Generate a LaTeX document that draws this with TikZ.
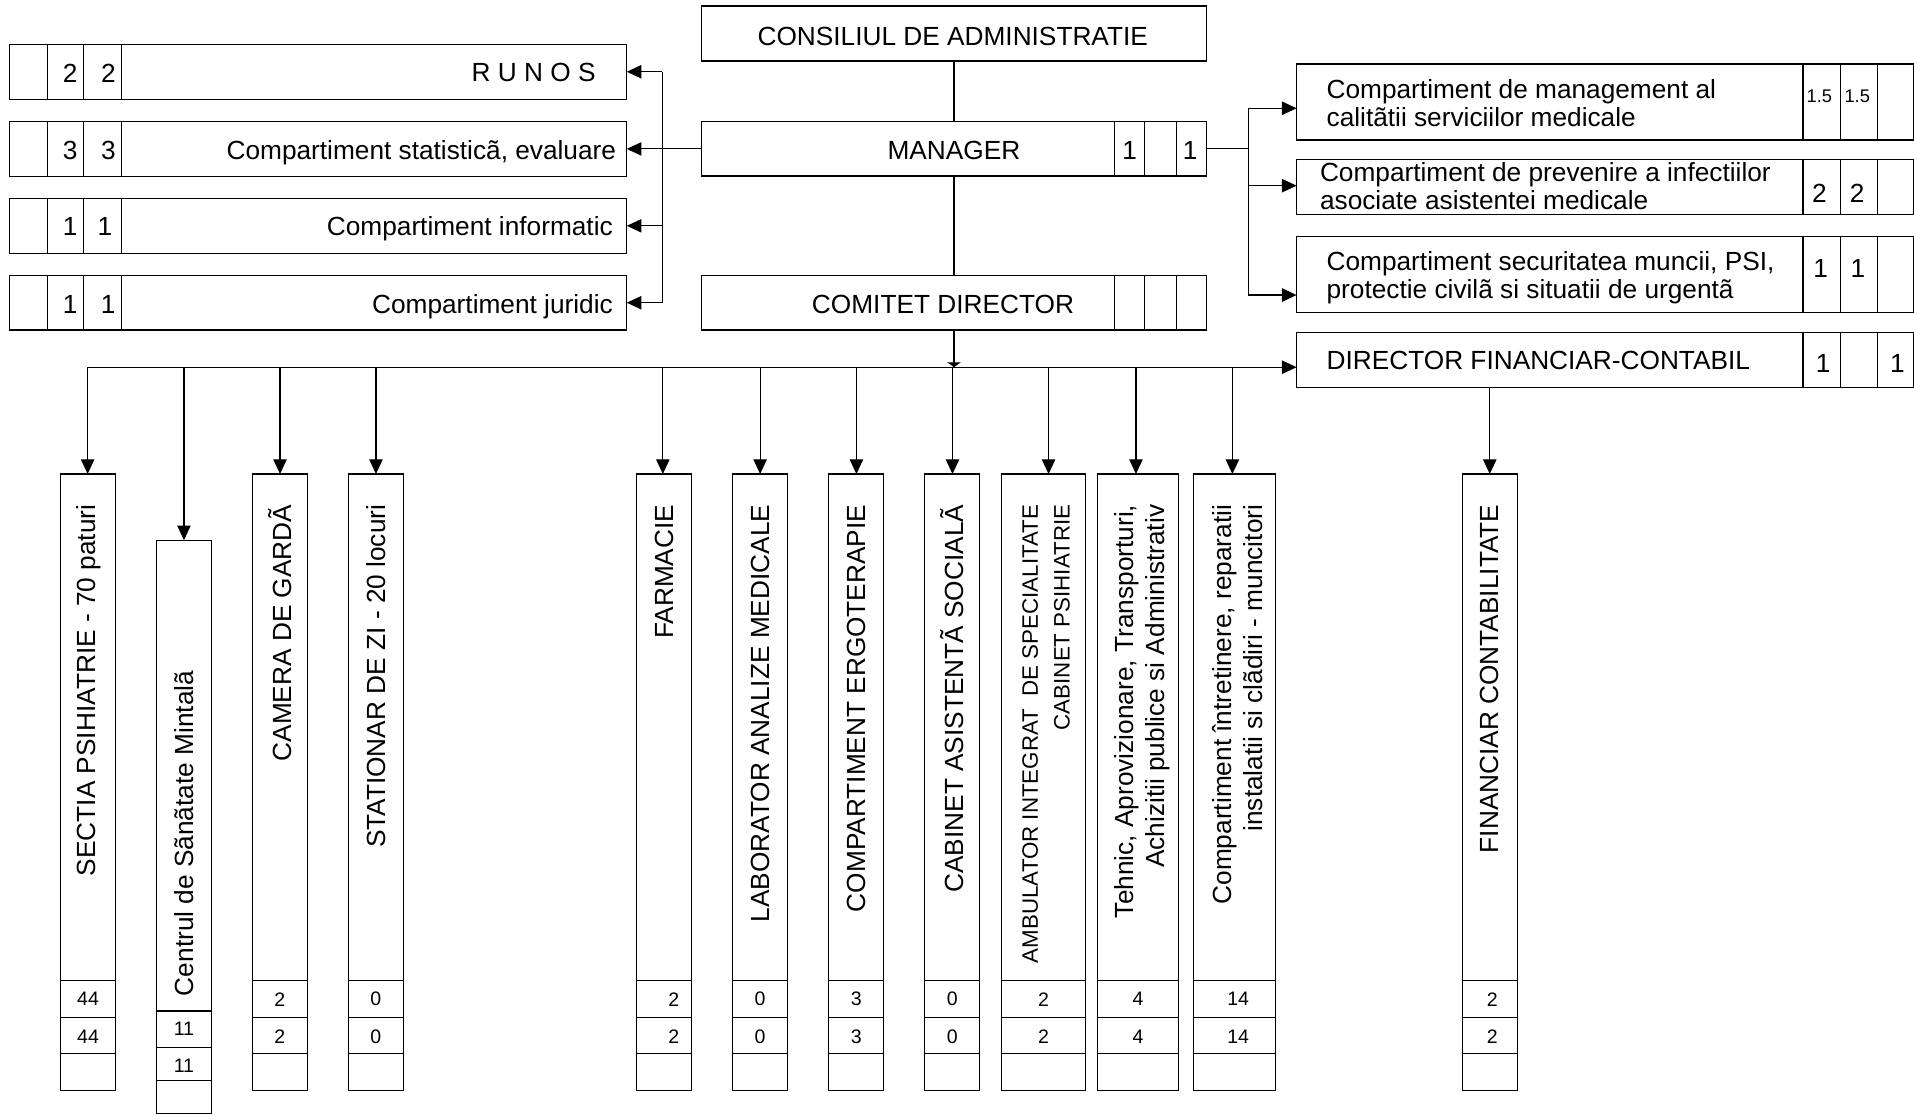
\documentclass[tikz,border=0pt]{standalone}
\usepackage{fontspec}
\setmainfont{Liberation Sans}
\usetikzlibrary{arrows.meta,calc}
\begin{document}
\begin{tikzpicture}[x=1pt,y=-1pt,
  box/.style={draw=black, line width=1pt, inner sep=0pt, outer sep=0pt, rectangle},
  lbl/.style={inner sep=0pt, outer sep=0pt, font=\fontsize{21.5}{23.3}\selectfont},
  rlbl/.style={inner sep=0pt, outer sep=0pt, rotate=90, align=right, font=\fontsize{21.5}{25.5}\selectfont},
  cnum/.style={inner sep=0pt, font=\fontsize{21.5}{24}\selectfont},
  snum/.style={inner sep=0pt, font=\fontsize{15}{17}\selectfont},
  bnum/.style={inner sep=0pt, font=\fontsize{16}{18}\selectfont},
  cell/.style={draw=black, line width=1pt},
  conn/.style={draw=black, line width=0.9pt},
  arr/.style={conn, -{Triangle[length=12pt,width=11pt]}},
  sarr/.style={conn, -{Triangle[length=4pt,width=11pt]}},
]
\useasboundingbox (0,0) rectangle (1568,913);

% ---------- central column ----------
\node[box, minimum width=413.9pt, minimum height=45pt] (cons) at (781.55,27.5) {};
\node[box, minimum width=413.9pt, minimum height=44.5pt] (mgr) at (781.55,122) {};
\node[box, minimum width=413.9pt, minimum height=44.7pt] (com) at (781.55,248) {};
\node[lbl, anchor=base] (tcons) at (780.5,36.9) {CONSILIUL DE ADMINISTRATIE};
\node[lbl, anchor=base] (tmgr) at (781.5,131) {MANAGER};
\node[lbl, anchor=base] (tcom) at (772.5,257.2) {COMITET DIRECTOR};
\foreach \b in {mgr,com}
  \foreach \x in {912.8,937.7,963.6}
    \draw[cell] (\x,0 |- \b.north) -- (\x,0 |- \b.south);
\node[cnum] (m1) at (925.4,123.5) {1};
\node[cnum] (m2) at (975,123.5) {1};

% ---------- left boxes ----------
\node[box, minimum width=505.5pt, minimum height=44.8pt] (run) at (260.75,58.8) {};
\node[box, minimum width=505.5pt, minimum height=44.6pt] (stat) at (260.75,122) {};
\node[box, minimum width=505.5pt, minimum height=44.8pt] (inf) at (260.75,185) {};
\node[box, minimum width=505.5pt, minimum height=44.8pt] (jur) at (260.75,248) {};
\foreach \b in {run,stat,inf,jur}
  \foreach \x in {39.1,68.4,99.8}
    \draw[cell] (\x,0 |- \b.north) -- (\x,0 |- \b.south);
\node[lbl, anchor=base east] (trun) at (488,66.9) {R U N O S};
\node[lbl, anchor=base east] (tstat) at (504.7,130.5) {Compartiment statisticã, evaluare};
\node[lbl, anchor=base east] (tinf) at (502,193.3) {Compartiment informatic};
\node[lbl, anchor=base east] (tjur) at (502,256.7) {Compartiment juridic};
\node[cnum] (r1) at (57.4,59.8) {2};  \node[cnum] (r2) at (88.9,59.8) {2};
\node[cnum] (s1) at (57.4,123.2) {3}; \node[cnum] (s2) at (88.9,123.2) {3};
\node[cnum] (i1) at (57.4,185.9) {1}; \node[cnum] (i2) at (86,185.9) {1};
\node[cnum] (j1) at (57.4,249.1) {1}; \node[cnum] (j2) at (88.6,249.1) {1};

% ---------- right boxes ----------
\node[box, minimum width=505.2pt, minimum height=62.3pt] (qual) at (1314.8,83.55) {};
\node[box, minimum width=505.2pt, minimum height=45.4pt] (prev) at (1314.8,153.2) {};
\node[box, minimum width=505.2pt, minimum height=62.2pt] (secu) at (1314.8,225) {};
\node[box, minimum width=505.2pt, minimum height=44.8pt] (dir) at (1314.8,294.9) {};
\foreach \b in {qual,prev,secu,dir}
  \foreach \x in {1477,1508,1538}
    \draw[cell] (\x,0 |- \b.north) -- (\x,0 |- \b.south);
\node[lbl, anchor=base west] (tq1) at (1086.8,80.5) {Compartiment de management al};
\node[lbl, anchor=base west] (tq2) at (1086.8,103.8) {calitãtii serviciilor medicale};
\node[lbl, anchor=base west] (tp1) at (1081.4,148.8) {Compartiment de prevenire a infectiilor};
\node[lbl, anchor=base west] (tp2) at (1081.4,171.5) {asociate asistentei medicale};
\node[lbl, anchor=base west] (ts1) at (1086.8,221.2) {Compartiment securitatea muncii, PSI,};
\node[lbl, anchor=base west] (ts2) at (1086.8,244.4) {protectie civilã si situatii de urgentã};
\node[lbl, anchor=base west] (tdir) at (1086.8,303.1) {DIRECTOR FINANCIAR-CONTABIL};
\node[snum] (q1) at (1490.5,79.2) {1.5}; \node[snum] (q2) at (1521.5,79.2) {1.5};
\node[cnum] (p1) at (1490.5,158.4) {2};  \node[cnum] (p2) at (1521.5,158.4) {2};
\node[cnum] (e1) at (1491.5,219.8) {1};  \node[cnum] (e2) at (1522,219.8) {1};
\node[cnum] (d1) at (1493.5,297.6) {1};  \node[cnum] (d2) at (1554.5,297.6) {1};

% ---------- bottom columns ----------
\foreach \n/\cx/\w in {sec/72.1/45.4, cam/229.25/45.1, stz/307.85/45.1, far/544/45, lab/622.7/44.8, erg/701.5/45, cab/780.1/45.2, amb/854.9/68.6, teh/932.3/66.2, int/1011.3/66.8, fin/1220.45/45.1}{
  \node[box, minimum width=\w pt, minimum height=505.2pt] (\n) at (\cx,640.9) {};
  \foreach \y in {803,833.7,863}
    \draw[cell] (\n.west |- 0,\y) -- (\n.east |- 0,\y);
}
\node[box, minimum width=44.8pt, minimum height=469.5pt] (cen) at (150.7,677.25) {};
\foreach \y in {828.3,857.9,885}
  \draw[cell] (cen.west |- 0,\y) -- (cen.east |- 0,\y);

% column labels
\node[rlbl, anchor=east] (lsec) at (72.6,413.5) {SECTIA PSIHIATRIE - 70 paturi};
\node[rlbl, anchor=west] (lcen) at (150.7,816) {Centrul de Sãnãtate Mintalã};
\node[rlbl, anchor=east] (lcam) at (229.4,413.5) {CAMERA DE GARDÃ};
\node[rlbl, anchor=east] (lstz) at (307.9,413.5) {STATIONAR DE ZI - 20 locuri};
\node[rlbl, anchor=east] (lfar) at (544,413.5) {FARMACIE};
\node[rlbl, anchor=east] (llab) at (622.7,413.5) {LABORATOR ANALIZE MEDICALE};
\node[rlbl, anchor=east] (lerg) at (701.5,413.5) {COMPARTIMENT ERGOTERAPIE};
\node[rlbl, anchor=east] (lcab) at (780.1,413.5) {CABINET ASISTENTÃ SOCIALÃ};
\node[rlbl, anchor=east, font=\fontsize{18.3}{26}\selectfont] (lamb) at (857,413.5) {AMBULATOR INTEGRAT~ DE SPECIALITATE\\CABINET PSIHIATRIE};
\node[rlbl, anchor=east] (lteh) at (935.5,413.5) {Tehnic, Aprovizionare, Transporturi,\\Achizitii publice si Administrativ};
\node[rlbl, anchor=east] (lint) at (1014,413.5) {Compartiment întretinere, reparatii\\instalatii si clãdiri - muncitori};
\node[rlbl, anchor=east] (lfin) at (1220.45,413.5) {FINANCIAR CONTABILITATE};

% cell numbers
\foreach \n/\xo/\v in {sec/0/44, cam/0/2, stz/0/0, far/8/2, lab/0/0, erg/0/3, cab/0/0, amb/0/2, teh/0/4, int/3/14, fin/2/2}{
  \node[bnum] (\n-n1) at ($(\n.center |- 0,818.6)+(\xo,0)$) {\v};
  \node[bnum] (\n-n2) at ($(\n.center |- 0,849.6)+(\xo,0)$) {\v};
}
\node[bnum] (cen-n1) at (150.7,843) {11};
\node[bnum] (cen-n2) at (150.7,872.8) {11};

% ---------- connectors ----------
\draw[conn] (cons.south) -- (mgr.north);
\draw[conn] (mgr.south) -- (com.north);

% left
\coordinate (lt) at (542.4,58.8);
\draw[arr] (mgr.west) -- (stat.east);
\draw[conn] (lt) -- (lt |- jur.east);
\draw[arr] (lt) -- (run.east);
\draw[arr] (lt |- inf.east) -- (inf.east);
\draw[arr] (lt |- jur.east) -- (jur.east);

% right
\coordinate (rt) at (1022.5,88.7);
\coordinate (rm) at (1022.5,152.1);
\coordinate (rb) at (1022.5,241.7);
\draw[conn] (mgr.east) -- (mgr.east -| rt);
\draw[conn] (rt) -- (rb);
\draw[arr] (rt) -- (rt -| qual.west);
\draw[arr] (rm) -- (rm -| prev.west);
\draw[arr] (rb) -- (rb -| secu.west);

% bus
\coordinate (b0) at (71.8,300.8);
\draw[sarr] (com.south) -- (com.south |- b0);
\draw[arr] (b0) -- (b0 -| dir.west);
\foreach \x/\n in {71.8/sec, 150.7/cen, 229.4/cam, 308/stz, 543/far, 622.7/lab, 701.6/erg, 780.3/cab, 859/amb, 930.6/teh, 1009.6/int}
  \draw[arr] (\x,0 |- b0) -- (\x,0 |- \n.north);
\draw[arr] (dir.south -| fin.north) -- (fin.north);
\end{tikzpicture}
\end{document}
